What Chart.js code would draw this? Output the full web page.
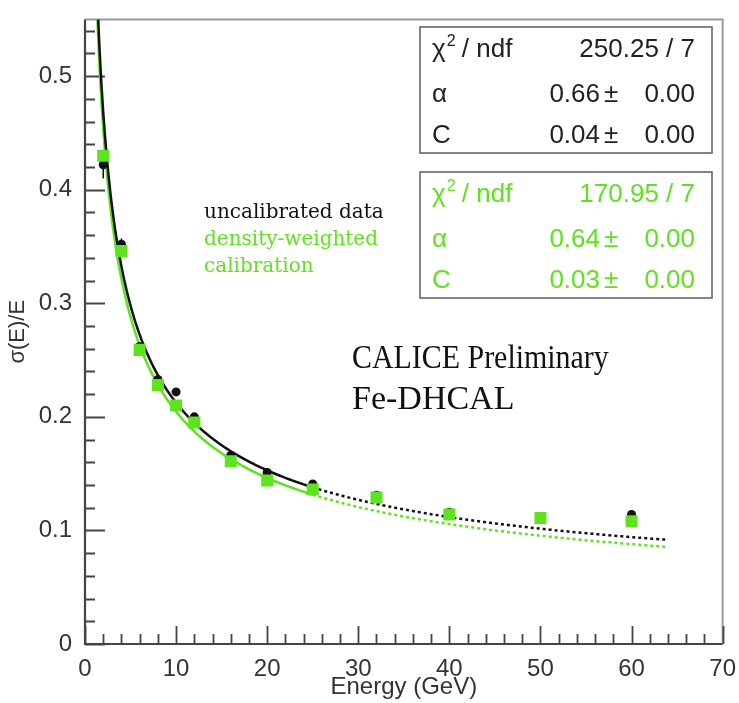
<!DOCTYPE html>
<html>
<head>
<meta charset="utf-8">
<title>Energy resolution</title>
<script src="https://cdn.jsdelivr.net/npm/chart.js@4.4.1/dist/chart.umd.min.js"></script>
<style>
    html, body { margin: 0; padding: 0; background: #fff; }
    #wrap { position: relative; width: 739px; height: 703px; }
</style>
</head>
<body>
<div id="wrap"><canvas id="myChart" width="739" height="703"></canvas></div>
<script>
// beam energies (GeV)
var energies = [2, 4, 6, 8, 10, 12, 16, 20, 25, 32, 40, 50, 60];
// sigma(E)/E before calibration
var resUncal = [0.422, 0.352, 0.262, 0.233, 0.222, 0.200, 0.166, 0.151, 0.141, 0.131, 0.116, 0.112, 0.114];
var errUncal = [0.012, 0.005, 0.003, 0.003, 0.002, 0.002, 0.002, 0.001, 0.001, 0.001, 0.001, 0.001, 0.001];
// sigma(E)/E after density-weighted calibration
var resCalib = [0.430, 0.346, 0.259, 0.228, 0.210, 0.195, 0.161, 0.144, 0.136, 0.129, 0.114, 0.111, 0.108];

// fit results, [uncalibrated, calibrated]
var fitAlpha = [0.66, 0.64];
var fitC = [0.04, 0.03];
var fitChi2 = ["250.25", "170.95"];
var fitNdf = [7, 7];

var xTicks = [0, 10, 20, 30, 40, 50, 60, 70];
var yTicks = [0, 0.1, 0.2, 0.3, 0.4, 0.5];

var BLACK = "#111111";
var GREEN = "#5ee31e";

// sigma/E = alpha/sqrt(E) (+) C
function resolution(e, a, c) {
    return Math.sqrt(a * a / e + c * c);
}

function fitCurve(k, from, to) {
    var pts = [];
    for (var e = from; e <= to + 1e-9; e += 0.2) {
        pts.push({ x: e, y: resolution(e, fitAlpha[k], fitC[k]) });
    }
    return pts;
}

function toPoints(ys) {
    return energies.map(function (e, i) {
        return { x: e, y: ys[i] };
    });
}

// text squeezed a little horizontally
function narrowText(c, text, x, y, sx) {
    c.save();
    c.translate(x, y);
    c.scale(sx, 1);
    c.fillText(text, 0, 0);
    c.restore();
}

// ROOT style frame: ticks pointing inwards, grey top/right edges
const framePlugin = {
    id: "frame",
    beforeDatasetsDraw(chart) {
        const c = chart.ctx;
        const a = chart.chartArea;
        const sx = chart.scales.x;
        const sy = chart.scales.y;
        c.save();
        c.lineCap = "butt";
        c.strokeStyle = "#9a9a9a";
        c.lineWidth = 2;
        c.beginPath();
        c.moveTo(a.left, a.top);
        c.lineTo(a.right, a.top);
        c.lineTo(a.right, a.bottom);
        c.stroke();

        c.strokeStyle = "#444";
        c.lineWidth = 2.2;
        c.beginPath();
        c.moveTo(a.left, a.top);
        c.lineTo(a.left, a.bottom);
        c.lineTo(a.right, a.bottom);
        c.stroke();

        c.lineWidth = 1.8;
        c.beginPath();
        for (let i = 0; i <= 27; i++) {
            const v = i * 0.02;
            const py = Math.round(sy.getPixelForValue(v)) + 0.5;
            const len = i % 5 === 0 ? 20 : 10;
            c.moveTo(a.left, py);
            c.lineTo(a.left + len, py);
        }
        for (let i = 0; i <= 35; i++) {
            const px = Math.round(sx.getPixelForValue(i * 2)) + 0.5;
            const len = i % 5 === 0 ? 18 : 10;
            c.moveTo(px, a.bottom);
            c.lineTo(px, a.bottom - len);
        }
        c.stroke();

        // error bars of the uncalibrated points
        c.strokeStyle = BLACK;
        c.lineWidth = 1.5;
        c.beginPath();
        energies.forEach(function (e, i) {
            const px = sx.getPixelForValue(e);
            c.moveTo(px, sy.getPixelForValue(resUncal[i] - errUncal[i]));
            c.lineTo(px, sy.getPixelForValue(resUncal[i] + errUncal[i]));
        });
        c.stroke();
        c.restore();
    },
    afterDraw(chart) {
        const c = chart.ctx;
        c.save();

        // fit statistics boxes
        const boxes = [
            { top: 27, color: "#222", k: 0 },
            { top: 172, color: GREEN, k: 1 }
        ];
        boxes.forEach(function (b) {
            c.fillStyle = "#fff";
            c.fillRect(420, b.top, 292, 126);
            c.strokeStyle = "#666";
            c.lineWidth = 1.6;
            c.strokeRect(420, b.top, 292, 126);

            c.fillStyle = b.color;
            c.textBaseline = "alphabetic";
            const rows = [b.top + 30, b.top + 75, b.top + 116];
            c.font = "26px 'Liberation Sans'";
            c.textAlign = "left";
            c.fillText("\u03c7", 432, rows[0]);
            const wChi = c.measureText("\u03c7").width;
            c.font = "16px 'Liberation Sans'";
            c.fillText("2", 432 + wChi + 1, rows[0] - 11);
            c.font = "26px 'Liberation Sans'";
            c.fillText(" / ndf", 432 + wChi + 9, rows[0]);
            c.fillText("\u03b1", 432, rows[1]);
            c.fillText("C", 432, rows[2]);

            c.textAlign = "right";
            c.fillText(fitChi2[b.k] + " / " + fitNdf[b.k], 695, rows[0]);
            c.fillText(fitAlpha[b.k].toFixed(2), 600, rows[1]);
            c.fillText(fitC[b.k].toFixed(2), 600, rows[2]);
            c.fillText("0.00", 695, rows[1]);
            c.fillText("0.00", 695, rows[2]);
            c.textAlign = "left";
            c.fillText("\u00b1", 604, rows[1]);
            c.fillText("\u00b1", 604, rows[2]);
        });

        // legend text
        c.textAlign = "left";
        c.font = "20px 'DejaVu Serif'";
        c.fillStyle = BLACK;
        c.fillText("uncalibrated data", 204, 218);
        c.fillStyle = GREEN;
        c.fillText("density-weighted", 204, 245);
        c.fillText("calibration", 204, 272);

        c.fillStyle = "#111";
        c.font = "34px 'Liberation Serif'";
        narrowText(c, "CALICE Preliminary", 352, 368, 0.88);
        c.fillText("Fe-DHCAL", 352, 409);
        c.restore();
    }
};

function lineSet(data, color, dashed, order) {
    return {
        type: "line",
        data: data,
        borderColor: color,
        borderWidth: 2.5,
        borderDash: dashed ? [3, 3] : [],
        pointRadius: 0,
        fill: false,
        tension: 0,
        order: order
    };
}

function drawChart() {
    const ctx = document.getElementById("myChart");
    new Chart(ctx, {
        type: "scatter",
        data: {
            datasets: [
                {
                    label: "density-weighted calibration",
                    data: toPoints(resCalib),
                    pointStyle: "rect",
                    pointRadius: 8.5,
                    backgroundColor: GREEN,
                    borderColor: GREEN,
                    borderWidth: 0,
                    order: 0
                },
                {
                    label: "uncalibrated data",
                    data: toPoints(resUncal),
                    pointStyle: "circle",
                    pointRadius: 4.5,
                    backgroundColor: BLACK,
                    borderColor: BLACK,
                    borderWidth: 0,
                    order: 1
                },
                lineSet(fitCurve(0, 1.2, 25), BLACK, false, 2),
                lineSet(fitCurve(0, 25, 64), BLACK, true, 2),
                lineSet(fitCurve(1, 1.2, 25), GREEN, false, 3),
                lineSet(fitCurve(1, 25, 64), GREEN, true, 3)
            ]
        },
        options: {
            responsive: false,
            animation: false,
            layout: { padding: { top: 10, right: 12, left: 0, bottom: 0 } },
            plugins: {
                legend: { display: false },
                tooltip: { enabled: false }
            },
            scales: {
                x: {
                    type: "linear",
                    min: 0,
                    max: 70,
                    afterFit: function (s) { s.height = 59; },
                    afterBuildTicks: function (s) {
                        s.ticks = xTicks.map(function (v) { return { value: v }; });
                    },
                    grid: { display: false },
                    border: { display: false },
                    ticks: {
                        color: "#333",
                        font: { family: "'Liberation Sans'", size: 24 },
                        padding: 3,
                        maxRotation: 0
                    },
                    title: {
                        display: true,
                        text: "Energy (GeV)",
                        color: "#333",
                        font: { family: "'Liberation Sans'", size: 24 },
                        padding: { top: 0, bottom: 1 }
                    }
                },
                y: {
                    min: 0,
                    max: 0.55,
                    afterFit: function (s) { s.width = 85; },
                    afterBuildTicks: function (s) {
                        s.ticks = yTicks.map(function (v) { return { value: v }; });
                    },
                    grid: { display: false },
                    border: { display: false },
                    ticks: {
                        color: "#333",
                        font: { family: "'Liberation Sans'", size: 24 },
                        padding: 5,
                        callback: function (v) { return String(Math.round(v * 10) / 10); }
                    },
                    title: {
                        display: true,
                        text: "\u03c3(E)/E",
                        color: "#333",
                        font: { family: "'Liberation Sans'", size: 22 },
                        padding: { top: 5, bottom: 0 }
                    }
                }
            }
        },
        plugins: [framePlugin]
    });
}

window.onload = function () {
    drawChart();
};
</script>
</body>
</html>
